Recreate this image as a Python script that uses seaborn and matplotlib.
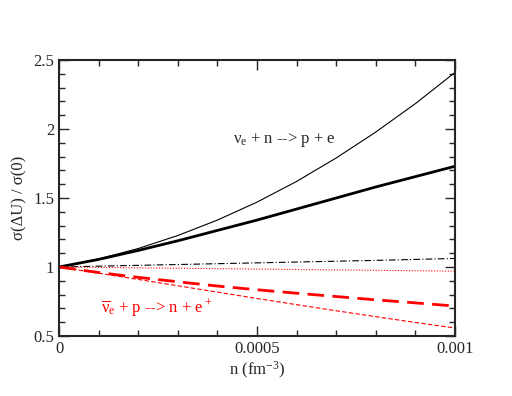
import numpy as np
import pandas as pd
import seaborn as sns
import matplotlib.pyplot as plt
from matplotlib.ticker import MultipleLocator, FuncFormatter

# density points and curves
n = [0, 0.0001, 0.0002, 0.0003, 0.0004, 0.0005, 0.0006, 0.0007, 0.0008, 0.0009, 0.001]
nu_thin = [1.0, 1.058, 1.134, 1.228, 1.34, 1.47, 1.62, 1.79, 1.978, 2.184, 2.41]
nu_thick = [1.0, 1.055, 1.12, 1.19, 1.265, 1.34, 1.42, 1.50, 1.58, 1.655, 1.73]
nu_dashdot = [1.0, 1.006, 1.012, 1.018, 1.024, 1.03, 1.036, 1.042, 1.048, 1.055, 1.062]
anu_dotted = [1.0, 0.997, 0.994, 0.991, 0.988, 0.985, 0.982, 0.979, 0.976, 0.973, 0.97]
anu_thick = [1.0, 0.96, 0.925, 0.893, 0.862, 0.835, 0.81, 0.786, 0.762, 0.74, 0.717]
anu_thin = [1.0, 0.955, 0.91, 0.864, 0.818, 0.772, 0.727, 0.683, 0.64, 0.598, 0.558]

sns.set_style('ticks')
plt.rcParams['font.family'] = ['Liberation Serif', 'DejaVu Serif']
plt.rcParams['mathtext.fontset'] = 'custom'
plt.rcParams['mathtext.rm'] = 'Liberation Serif'
plt.rcParams['mathtext.it'] = 'Liberation Serif'

df = pd.DataFrame({'n': n})

fig = plt.figure(figsize=(5.12, 3.96), dpi=100)
ax = fig.add_axes([59/512, 1-336/396, 396/512, 276/396])

sns.lineplot(x=df['n'], y=nu_thin, ax=ax, color='black', lw=0.8)
sns.lineplot(x=df['n'], y=nu_thick, ax=ax, color='black', lw=2.0)
sns.lineplot(x=df['n'], y=nu_dashdot, ax=ax, color='black', lw=0.8, linestyle=(0, (6, 2, 1, 2)))
sns.lineplot(x=df['n'], y=anu_dotted, ax=ax, color='red', lw=0.8, linestyle=(0, (1, 1.5)))
sns.lineplot(x=df['n'], y=anu_thick, ax=ax, color='red', lw=2.0, linestyle=(0, (6, 3)))
sns.lineplot(x=df['n'], y=anu_thin, ax=ax, color='red', lw=0.8, linestyle=(0, (4, 2)))

ax.set_xlim(0, 0.001)
ax.set_ylim(0.5, 2.5)
ax.xaxis.set_major_locator(MultipleLocator(0.0005))
ax.xaxis.set_minor_locator(MultipleLocator(0.0001))
ax.yaxis.set_major_locator(MultipleLocator(0.5))
ax.yaxis.set_minor_locator(MultipleLocator(0.1))
ax.xaxis.set_major_formatter(FuncFormatter(lambda v, p: '%g' % round(v, 6)))
ax.yaxis.set_major_formatter(FuncFormatter(lambda v, p: '%g' % round(v, 3)))
ax.tick_params(which='both', direction='in', top=True, right=True, labelsize=12, width=1)
ax.tick_params(which='major', length=7)
ax.tick_params(which='minor', length=4)
for s in ax.spines.values():
    s.set_linewidth(1.5)

ax.set_xlabel('n (fm$^{-3}$)', fontsize=12, labelpad=2)
ax.set_ylabel('σ(ΔU) / σ(0)', fontsize=12, labelpad=4)

ax.text(0.000568, 1.92, r'$\nu_\mathrm{e}$ + n --> p + e', fontsize=12, ha='center', va='center')
ax.text(0.000247, 0.70, r'$\overline{\nu}_\mathrm{e}$ + p --> n + e$^+$', fontsize=12,
        ha='center', va='center', color='red')

plt.savefig('out.png', dpi=100)
